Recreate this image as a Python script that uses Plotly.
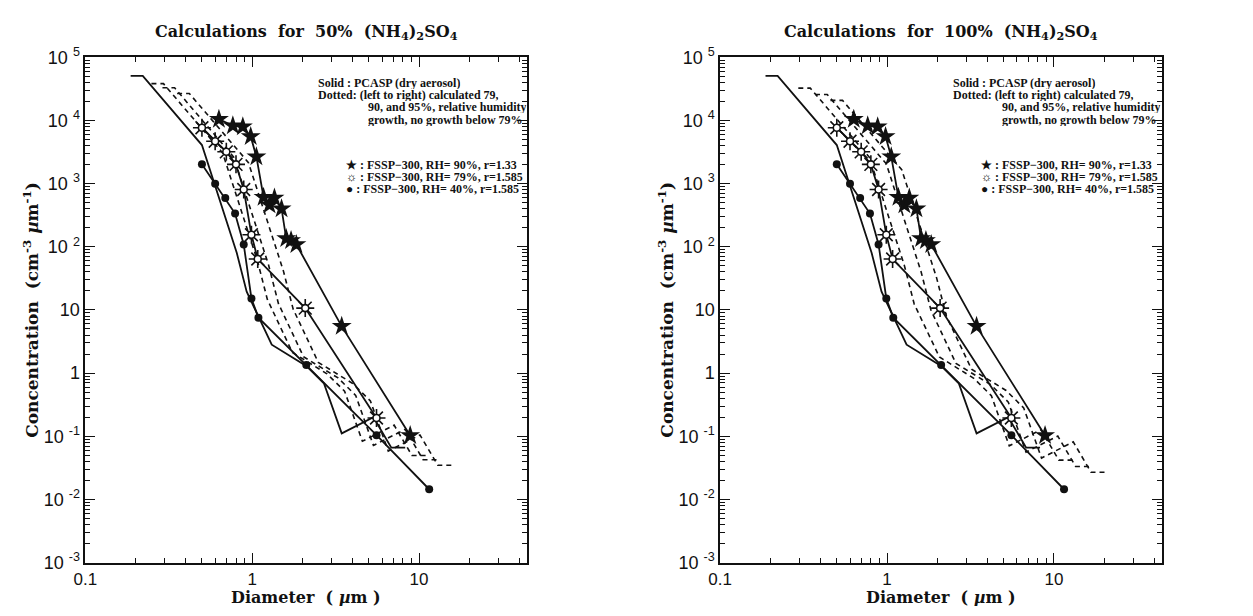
import plotly.graph_objects as go

W, H = 1253, 616

# ---------------- data ----------------
# PCASP dry aerosol (solid line, no markers) - same in both panels
pcasp_d = [0.187, 0.221, 0.50, 0.809, 0.927, 1.31, 2.11, 2.69, 3.44, 5.33, 6.82, 8.26]
pcasp_c = [51000, 51000, 4080, 79.6, 19.5, 2.82, 1.30, 0.69, 0.111, 0.20, 0.066, 0.066]

# FSSP-300, RH=90%, r=1.33 (filled stars)
fssp90_d = [0.632, 0.766, 0.879, 0.98, 1.06, 1.17, 1.27, 1.36, 1.50, 1.60, 1.71, 1.84, 3.44, 8.85]
fssp90_c = [10500, 8240, 7960, 5600, 2670, 611, 461, 590, 401, 135, 126, 109, 5.5, 0.103]

# FSSP-300, RH=79%, r=1.585 (open stars)
fssp79_d = [0.50, 0.60, 0.70, 0.80, 0.89, 0.99, 1.08, 2.08, 5.56]
fssp79_c = [7670, 4700, 3190, 2020, 809, 155, 64, 10.7, 0.195]

# FSSP-300, RH=40%, r=1.585 (dots)
fssp40_d = [0.50, 0.60, 0.69, 0.79, 0.89, 0.99, 1.09, 2.11, 5.56, 11.5]
fssp40_c = [2020, 1000, 590, 336, 109, 15.2, 7.55, 1.35, 0.104, 0.0145]

# calculated growth curves, 50% (NH4)2SO4 (dashed)
c50_rh79_d = [0.249, 0.294, 0.665, 1.076, 1.233, 1.742, 2.806, 3.578, 4.575, 7.089, 9.07, 10.99]
c50_rh79_c = [38300, 38300, 3070, 59.8, 14.7, 2.12, 0.977, 0.519, 0.0835, 0.150, 0.0496, 0.0496]
c50_rh90_d = [0.290, 0.343, 0.775, 1.254, 1.437, 2.03, 3.27, 4.17, 5.33, 8.26, 10.57, 12.8]
c50_rh90_c = [32900, 32900, 2630, 51.4, 12.6, 1.82, 0.839, 0.445, 0.0716, 0.129, 0.0426, 0.0426]
c50_rh95_d = [0.355, 0.420, 0.95, 1.537, 1.761, 2.49, 4.01, 5.11, 6.54, 10.13, 12.96, 15.7]
c50_rh95_c = [26800, 26800, 2150, 41.9, 10.3, 1.48, 0.684, 0.363, 0.0584, 0.105, 0.0347, 0.0347]

# calculated growth curves, 100% (NH4)2SO4 (dashed)
c100_rh79_d = [0.294, 0.347, 0.785, 1.27, 1.455, 2.06, 3.31, 4.22, 5.40, 8.37, 10.7, 12.97]
c100_rh79_c = [32500, 32500, 2600, 50.7, 12.4, 1.80, 0.828, 0.439, 0.0707, 0.127, 0.042, 0.042]
c100_rh90_d = [0.370, 0.438, 0.99, 1.60, 1.835, 2.59, 4.18, 5.33, 6.81, 10.55, 13.5, 16.35]
c100_rh90_c = [25800, 25800, 2060, 40.2, 9.85, 1.42, 0.657, 0.348, 0.0561, 0.101, 0.0333, 0.0333]
c100_rh95_d = [0.458, 0.541, 1.225, 1.98, 2.27, 3.21, 5.17, 6.59, 8.43, 13.06, 16.7, 20.2]
c100_rh95_c = [20800, 20800, 1665, 32.5, 7.96, 1.15, 0.531, 0.282, 0.0453, 0.0816, 0.0269, 0.0269]

x_tick_vals = [0.1, 1, 10]
x_tick_text = ["0.1", "1", "10"]
y_tick_vals = [1e-3, 1e-2, 1e-1, 1, 10, 1e2, 1e3, 1e4, 1e5]
y_tick_text = ["10 <sup>-3</sup>", "10 <sup>-2</sup>", "10 <sup>-1</sup>", "1", "10",
               "10 <sup>2</sup>", "10 <sup>3</sup>", "10 <sup>4</sup>", "10 <sup>5</sup>"]

titles = ["Calculations  for  50%  (NH<sub>4</sub>)<sub>2</sub>SO<sub>4</sub>",
          "Calculations  for  100%  (NH<sub>4</sub>)<sub>2</sub>SO<sub>4</sub>"]
note_lines = ["Solid : PCASP (dry aerosol)",
              "Dotted: (left to right) calculated 79,",
              "90, and 95%, relative humidity",
              "growth, no growth below 79%"]
legend_lines = ["\u2605 : FSSP\u2212300, RH= 90%, r=1.33",
                "\u263C : FSSP\u2212300, RH= 79%, r=1.585",
                "\u25CF : FSSP\u2212300, RH= 40%, r=1.585"]

# ---------------- layout geometry (pixels) ----------------
PLOT_TOP, PLOT_BOT = 47, 571
PANELS = [(74, 520), (715, 1161)]
X_RANGE = [-1, 1.647]
Y_RANGE = [-3, 5]

x_minor = [m * 10 ** e for e in range(-1, 2) for m in range(2, 10)]
y_minor = [m * 10 ** e for e in range(-3, 5) for m in range(2, 10)]

BLACK = "#111111"
SERIF = "DejaVu Serif"
SANS = "Liberation Sans"

fig = go.Figure()

def px2fx(px):
    return px / W

def px2fy(py):
    return 1 - py / H

calc_sets = [
    [(c50_rh79_d, c50_rh79_c), (c50_rh90_d, c50_rh90_c), (c50_rh95_d, c50_rh95_c)],
    [(c100_rh79_d, c100_rh79_c), (c100_rh90_d, c100_rh90_c), (c100_rh95_d, c100_rh95_c)],
]

for i, (x0, x1) in enumerate(PANELS):
    xa = "x" if i == 0 else "x2"
    ya = "y" if i == 0 else "y2"
    for (dd, cc) in calc_sets[i]:
        fig.add_trace(go.Scatter(x=dd, y=cc, mode="lines", xaxis=xa, yaxis=ya,
                                 line=dict(color=BLACK, width=1.6, dash="5px,4px"),
                                 showlegend=False, hoverinfo="skip"))
    fig.add_trace(go.Scatter(x=pcasp_d, y=pcasp_c, mode="lines", xaxis=xa, yaxis=ya,
                             line=dict(color=BLACK, width=1.8), showlegend=False))
    fig.add_trace(go.Scatter(x=fssp40_d, y=fssp40_c, mode="lines+markers", xaxis=xa, yaxis=ya,
                             line=dict(color=BLACK, width=1.8),
                             marker=dict(symbol="circle", size=8, color=BLACK),
                             showlegend=False))
    fig.add_trace(go.Scatter(x=fssp90_d, y=fssp90_c, mode="lines+markers", xaxis=xa, yaxis=ya,
                             line=dict(color=BLACK, width=1.8),
                             marker=dict(symbol="star", size=15, color=BLACK),
                             showlegend=False))
    fig.add_trace(go.Scatter(x=fssp79_d, y=fssp79_c, mode="lines+markers", xaxis=xa, yaxis=ya,
                             line=dict(color=BLACK, width=1.8),
                             marker=dict(symbol="asterisk-open", size=15,
                                         line=dict(color=BLACK, width=1.6)),
                             showlegend=False))
    fig.add_trace(go.Scatter(x=fssp79_d, y=fssp79_c, mode="markers", xaxis=xa, yaxis=ya,
                             marker=dict(symbol="circle", size=7, color="white",
                                         line=dict(color=BLACK, width=1.6)),
                             showlegend=False))

    common_x = dict(type="log", range=X_RANGE, domain=[px2fx(x0), px2fx(x1)],
                    tickmode="array", tickvals=x_tick_vals, ticktext=x_tick_text,
                    ticks="inside", ticklen=10, tickwidth=1.2, tickcolor=BLACK,
                    showline=True, linecolor=BLACK, linewidth=1.6, mirror="allticks",
                    showgrid=False, zeroline=False,
                    tickfont=dict(family=SANS, size=17, color=BLACK),
                    minor=dict(tickmode="array", tickvals=x_minor, ticks="inside",
                               ticklen=5, tickwidth=1.1, tickcolor=BLACK, showgrid=False))
    common_y = dict(type="log", range=Y_RANGE,
                    domain=[px2fy(PLOT_BOT), px2fy(PLOT_TOP)],
                    tickmode="array", tickvals=y_tick_vals, ticktext=y_tick_text,
                    ticks="inside", ticklen=10, tickwidth=1.2, tickcolor=BLACK,
                    showline=True, linecolor=BLACK, linewidth=1.6, mirror="allticks",
                    showgrid=False, zeroline=False,
                    tickfont=dict(family=SANS, size=18, color=BLACK),
                    minor=dict(tickmode="array", tickvals=y_minor, ticks="inside",
                               ticklen=5, tickwidth=1.1, tickcolor=BLACK, showgrid=False))
    if i == 0:
        fig.update_layout(xaxis=dict(common_x, anchor="y"), yaxis=dict(common_y, anchor="x"))
    else:
        fig.update_layout(xaxis2=dict(common_x, anchor="y2"), yaxis2=dict(common_y, anchor="x2"))

    cx = (x0 + x1) / 2
    # panel title
    fig.add_annotation(xref="paper", yref="paper", x=px2fx(cx), y=px2fy(21),
                       text="<b>" + titles[i] + "</b>", showarrow=False,
                       xanchor="center", yanchor="middle",
                       font=dict(family=SERIF, size=16, color=BLACK))
    # x axis title
    fig.add_annotation(xref="paper", yref="paper", x=px2fx(cx), y=px2fy(607),
                       text="<b>Diameter  ( <i>\u00b5</i>m )</b>", showarrow=False,
                       xanchor="center", yanchor="middle", height=17, borderpad=0,
                       font=dict(family=SERIF, size=16, color=BLACK))
    # y axis title
    fig.add_annotation(xref="paper", yref="paper", x=px2fx(x0 - 55), y=px2fy(309),
                       text="<b>Concentration  (cm<sup>-3</sup> <i>\u00b5</i>m<sup>-1</sup>)</b>",
                       showarrow=False, textangle=-90,
                       xanchor="center", yanchor="middle",
                       font=dict(family=SERIF, size=17, color=BLACK))
    # notes
    tx = x0 + 234
    for k, line in enumerate(note_lines):
        fig.add_annotation(xref="paper", yref="paper",
                           x=px2fx(tx if k < 2 else tx + 50), y=px2fy(74 + 12.5 * k),
                           text="<b>" + line + "</b>", showarrow=False,
                           xanchor="left", yanchor="middle", height=12, borderpad=0,
                           font=dict(family="Liberation Serif", size=12, color=BLACK))
    for k, line in enumerate(legend_lines):
        fig.add_annotation(xref="paper", yref="paper",
                           x=px2fx(tx + 28), y=px2fy(159 + 12.5 * k),
                           text="<b>" + line + "</b>", showarrow=False,
                           xanchor="left", yanchor="middle", height=12, borderpad=0,
                           font=dict(family="Liberation Serif", size=12, color=BLACK))

fig.update_layout(width=W, height=H, margin=dict(l=0, r=0, t=0, b=0),
                  paper_bgcolor="white", plot_bgcolor="white", showlegend=False)

fig.write_html("out.html")
